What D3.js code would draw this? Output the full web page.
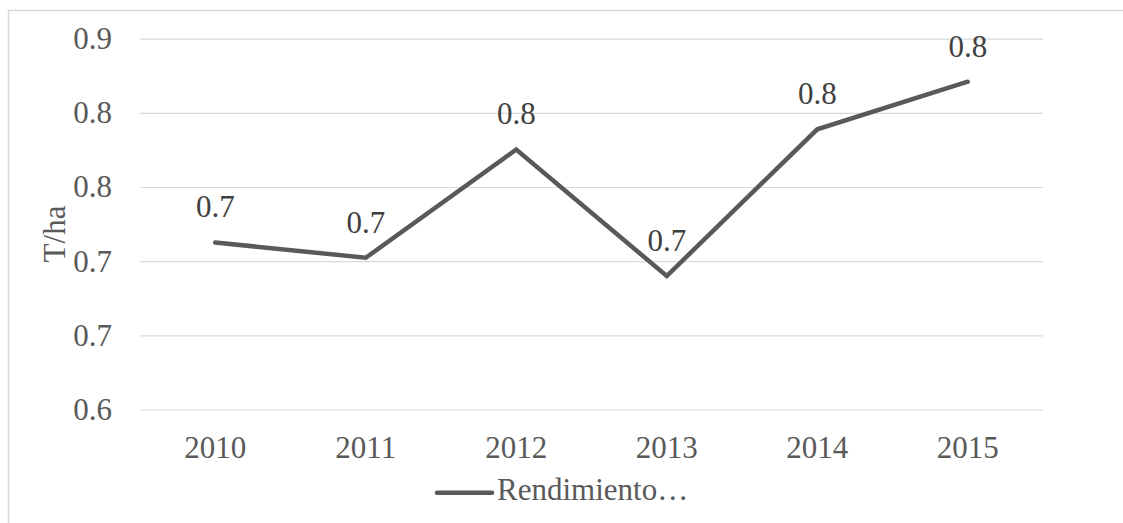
<!DOCTYPE html>
<html>
<head>
<meta charset="utf-8">
<script src="https://cdn.jsdelivr.net/npm/d3@7"></script>
<style>
  html, body { margin: 0; padding: 0; background: #fff; }
  svg { display: block; }
</style>
</head>
<body>
<svg id="chart" width="1123" height="523"></svg>
<script>
const years = ["2010", "2011", "2012", "2013", "2014", "2015"];
const rendimiento = [0.7126, 0.7023, 0.7753, 0.690, 0.7889, 0.821];
const yTickValues = [0.6, 0.65, 0.7, 0.75, 0.8, 0.85];
const yTickLabels = ["0.6", "0.7", "0.7", "0.8", "0.8", "0.9"];
const seriesName = "Rendimiento…";
const yTitle = "T/ha";

const FONT = "Liberation Serif";
const TXT = "#595959";
const svg = d3.select("#chart");
const W = 1123, H = 523;
const plot = { left: 140, right: 1043, top: 38.7, bottom: 409.5 };

function styleText(sel) {
  return sel.style("font-family", FONT).style("font-size", "31px").style("fill", TXT);
}

// outer chart border
svg.append("rect")
  .attr("x", 8.5).attr("y", 10.5)
  .attr("width", W + 20).attr("height", H + 20)
  .attr("fill", "none").attr("stroke", "#d9d9d9").attr("stroke-width", 1.5);

const x = d3.scaleBand().domain(years).range([plot.left, plot.right]);
const y = d3.scaleLinear().domain([0.6, 0.85]).range([plot.bottom, plot.top]);

// gridlines + y tick labels via axis
const yAxis = d3.axisLeft(y)
  .tickValues(yTickValues)
  .tickFormat((d, i) => yTickLabels[i])
  .tickSize(-(plot.right - plot.left))
  .tickPadding(28);
const gy = svg.append("g").attr("transform", `translate(${plot.left},0)`).call(yAxis);
gy.select(".domain").remove();
gy.selectAll(".tick line").attr("stroke", "#d9d9d9").attr("stroke-width", 1.2);
styleText(gy.selectAll(".tick text"));

// x axis labels
const xAxis = d3.axisBottom(x).tickSize(0).tickPadding(0);
const gx = svg.append("g").attr("transform", `translate(0,${plot.bottom})`).call(xAxis);
gx.select(".domain").remove();
styleText(gx.selectAll(".tick text").attr("dy", null).attr("y", 48.5));

// y axis title
styleText(svg.append("text")
  .attr("transform", `translate(${65},${234}) rotate(-90)`)
  .attr("text-anchor", "middle")
  .text(yTitle));

// line
const cx = d => x(d) + x.bandwidth() / 2;
const line = d3.line()
  .x((d, i) => cx(years[i]))
  .y(d => y(d));
svg.append("path")
  .datum(rendimiento)
  .attr("d", line)
  .attr("fill", "none")
  .attr("stroke", "#595959")
  .attr("stroke-width", 4.5)
  .attr("stroke-linejoin", "miter")
  .attr("stroke-linecap", "round");

// data labels
const fmt = d3.format(".1f");
styleText(svg.append("g").selectAll("text")
  .data(rendimiento)
  .join("text")
  .attr("x", (d, i) => cx(years[i]))
  .attr("y", d => y(d) - 25)
  .attr("text-anchor", "middle")
  .text(d => fmt(d))).style("fill", "#404040");

// legend
const lg = svg.append("g");
lg.append("line")
  .attr("x1", 437).attr("x2", 492)
  .attr("y1", 492.7).attr("y2", 492.7)
  .attr("stroke", "#595959").attr("stroke-width", 4.5).attr("stroke-linecap", "round");
styleText(lg.append("text")
  .attr("x", 497).attr("y", 499.5)
  .text(seriesName));
</script>
</body>
</html>
